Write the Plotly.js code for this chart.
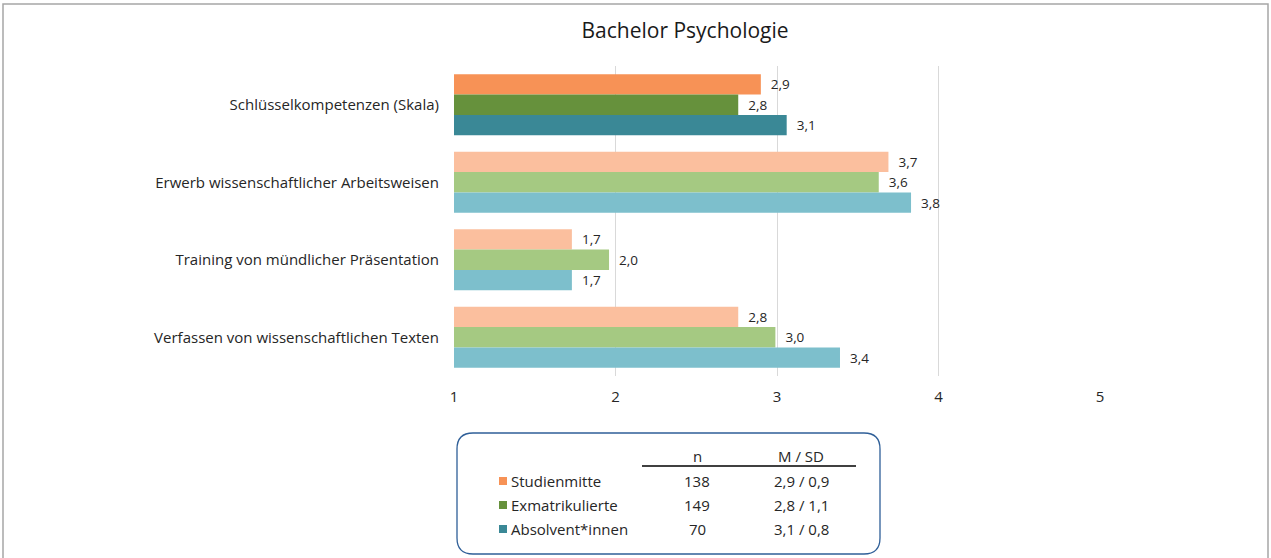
<!DOCTYPE html>
<html><head><meta charset="utf-8">
<script src="https://cdn.plot.ly/plotly-3.0.1.min.js"></script>
<style>body{margin:0;background:#fff}#c{width:1271px;height:558px}</style>
</head><body><div id="c"></div>
<script>
const categories = ["Schlüsselkompetenzen (Skala)", "Erwerb wissenschaftlicher Arbeitsweisen", "Training von mündlicher Präsentation", "Verfassen von wissenschaftlichen Texten"];
const seriesNames = ["Studienmitte", "Exmatrikulierte", "Absolvent*innen"];
const studienmitte = [2.90, 3.69, 1.73, 2.76];
const exmatrikulierte = [2.76, 3.63, 1.96, 2.99];
const absolventen = [3.06, 3.83, 1.73, 3.39];
const nValues = ["138", "149", "70"];
const mSd = ["2,9 / 0,9", "2,8 / 1,1", "3,1 / 0,8"];
const xTicks = [1, 2, 3, 4, 5];

const darkColors = ["#F79256", "#66913C", "#3A8896"];
const lightColors = ["#FBBF9E", "#A5C982", "#7DBFCC"];
const seriesVals = [studienmitte, exmatrikulierte, absolventen];

const FONT = 'Open Sans, sans-serif';
const TXT = '#262626';
const fmt = v => v.toFixed(1).replace('.', ',');
const traces = seriesVals.map((vals, i) => ({
  type: 'bar', orientation: 'h', name: seriesNames[i],
  y: categories, x: vals,
  marker: {color: categories.map((c, j) => j === 0 ? darkColors[i] : lightColors[i])},
  text: vals.map(v => '  ' + fmt(v)), textposition: 'outside', cliponaxis: false,
  textfont: {family: FONT, size: 13.5, color: TXT},
  hoverinfo: 'none'
}));

// pixel -> paper helpers
const L = 454, R = 1100, T = 66, B = 376;
const px = x => (x - L) / (R - L);
const py = y => (B - y) / (B - T);

const shapes = [];
const annotations = [];
// outer frame
shapes.push({type: 'rect', xref: 'paper', yref: 'paper', x0: px(3), x1: px(1268), y0: py(4), y1: py(600), line: {color: '#A6A6A6', width: 1.5}});
// rounded legend box
const bx0 = 457, bx1 = 880, by0 = 433, by1 = 554, r = 16;
const P = (x, y) => px(x) + ',' + py(y);
shapes.push({type: 'path', xref: 'paper', yref: 'paper',
  path: `M ${P(bx0 + r, by0)} L ${P(bx1 - r, by0)} Q ${P(bx1, by0)} ${P(bx1, by0 + r)} L ${P(bx1, by1 - r)} Q ${P(bx1, by1)} ${P(bx1 - r, by1)} L ${P(bx0 + r, by1)} Q ${P(bx0, by1)} ${P(bx0, by1 - r)} L ${P(bx0, by0 + r)} Q ${P(bx0, by0)} ${P(bx0 + r, by0)} Z`,
  line: {color: '#2F5F98', width: 1.3}, fillcolor: 'rgba(0,0,0,0)'});
// header underline
shapes.push({type: 'line', xref: 'paper', yref: 'paper', x0: px(642), x1: px(856), y0: py(466), y1: py(466), line: {color: '#000', width: 1.6}});
const lf = {family: FONT, size: 15, color: TXT};
annotations.push({xref: 'paper', yref: 'paper', x: px(697), y: py(456), text: 'n', showarrow: false, xanchor: 'center', yanchor: 'middle', font: lf});
annotations.push({xref: 'paper', yref: 'paper', x: px(801), y: py(456), text: 'M / SD', showarrow: false, xanchor: 'center', yanchor: 'middle', font: lf});
const rowY = [481, 505, 529];
seriesNames.forEach((nm, i) => {
  shapes.push({type: 'rect', xref: 'paper', yref: 'paper', x0: px(499), x1: px(507), y0: py(rowY[i] - 4), y1: py(rowY[i] + 4), line: {width: 0}, fillcolor: darkColors[i]});
  annotations.push({xref: 'paper', yref: 'paper', x: px(509), y: py(rowY[i]), text: nm, showarrow: false, xanchor: 'left', yanchor: 'middle', font: lf});
  annotations.push({xref: 'paper', yref: 'paper', x: px(697), y: py(rowY[i]), text: nValues[i], showarrow: false, xanchor: 'center', yanchor: 'middle', font: lf});
  annotations.push({xref: 'paper', yref: 'paper', x: px(801), y: py(rowY[i]), text: mSd[i], showarrow: false, xanchor: 'center', yanchor: 'middle', font: lf});
});

const layout = {
  width: 1271, height: 558,
  margin: {l: L, r: 1271 - R, t: T, b: 558 - B, pad: 0},
  paper_bgcolor: '#fff', plot_bgcolor: '#fff',
  title: {text: 'Bachelor Psychologie', x: 0.539, xanchor: 'center', y: 0.945, yanchor: 'middle',
    font: {family: FONT, size: 21, color: '#1a1a1a'}},
  barmode: 'group', bargap: 0.21, bargroupgap: 0,
  showlegend: false,
  xaxis: {range: [1, 5], tickvals: xTicks, ticktext: xTicks.map(String), showgrid: true, gridcolor: '#D9D9D9', gridwidth: 1,
    zeroline: false, showline: false, ticks: '', ticklabelstandoff: 10,
    tickfont: {family: FONT, size: 15, color: TXT}, fixedrange: true},
  yaxis: {autorange: 'reversed', showgrid: false, zeroline: false, showline: false, ticks: '',
    ticklabelstandoff: 14,
    tickfont: {family: FONT, size: 15, color: TXT}, fixedrange: true},
  shapes, annotations,
  font: {family: FONT}
};
Plotly.newPlot('c', traces, layout, {displayModeBar: false, staticPlot: true});
</script></body></html>
